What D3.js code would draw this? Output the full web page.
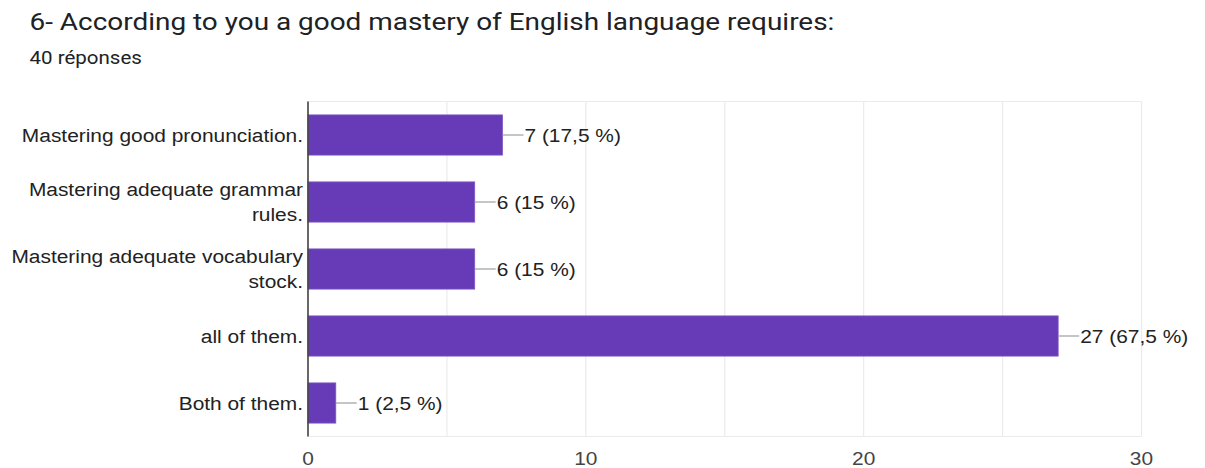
<!DOCTYPE html>
<html>
<head>
<meta charset="utf-8">
<script src="https://cdn.jsdelivr.net/npm/d3@7"></script>
<style>
  body { margin: 0; background: #fff; }
  text { font-family: "Liberation Sans", Arial, sans-serif; }
</style>
</head>
<body>
<svg id="chart" width="1205" height="468"></svg>
<script>
// Survey question and answer counts
const title = "6- According to you a good mastery of English language requires:";
const subtitle = "40 réponses";
const categories = [
  "Mastering good pronunciation.",
  "Mastering adequate grammar rules.",
  "Mastering adequate vocabulary stock.",
  "all of them.",
  "Both of them."
];
const counts = [7, 6, 6, 27, 1];
const totalResponses = 40;
const xTickValues = [0, 10, 20, 30];
const gridValues = [0, 5, 10, 15, 20, 25, 30];

const svg = d3.select("#chart");
const SX = 1.1;       // horizontal text stretch of the chart body
const SX_HEAD = 1.14; // horizontal text stretch of the heading

const plot = { left: 308, right: 1141.5, top: 101.5, bottom: 436.5 };

const x = d3.scaleLinear().domain([0, 30]).range([plot.left, plot.right]);
const y = d3.scaleBand().domain(categories).range([plot.top, plot.bottom])
  .paddingInner(0.4).paddingOuter(0.2);

const fr = d3.formatLocale({ decimal: ",", thousands: " ", grouping: [3], currency: ["", " €"] });
const pct = fr.format(".3~r");

// helper: stretched text placed at (px, py)
function stretchedText(parent, px, py, str, opts) {
  const g = parent.append("g").attr("transform", `translate(${px},${py}) scale(${opts.sx || SX},1)`);
  const t = g.append("text").text(str)
    .attr("font-size", opts.size)
    .attr("fill", opts.fill)
    .attr("text-anchor", opts.anchor || "start");
  if (opts.family) t.style("font-family", opts.family);
  return t;
}

// Title and subtitle
stretchedText(svg, 29.5, 30, title, { size: 24.5, fill: "#202124", family: "Roboto, sans-serif", sx: SX_HEAD });
stretchedText(svg, 29.5, 64, subtitle, { size: 18, fill: "#202124", family: "Roboto, sans-serif", sx: SX_HEAD });

// Grid
const grid = svg.append("g");
grid.selectAll("line.v").data(gridValues).join("line")
  .attr("x1", d => x(d)).attr("x2", d => x(d))
  .attr("y1", plot.top).attr("y2", plot.bottom)
  .attr("stroke", "#ebebeb").attr("stroke-width", 1.2);
grid.selectAll("line.h").data([plot.top, plot.bottom]).join("line")
  .attr("x1", plot.left).attr("x2", plot.right)
  .attr("y1", d => d).attr("y2", d => d)
  .attr("stroke", "#ebebeb").attr("stroke-width", 1.2);

// Bars
svg.append("g").selectAll("rect").data(categories).join("rect")
  .attr("x", x(0))
  .attr("y", d => y(d))
  .attr("width", (d, i) => x(counts[i]) - x(0))
  .attr("height", y.bandwidth())
  .attr("fill", "#673ab7")
  .attr("stroke", "#7e57c2").attr("stroke-width", 0.8);

// Value annotations with leader lines
const ann = svg.append("g");
categories.forEach((c, i) => {
  const xe = x(counts[i]);
  const yc = y(c) + y.bandwidth() / 2;
  ann.append("line")
    .attr("x1", xe).attr("x2", xe + 21)
    .attr("y1", yc).attr("y2", yc)
    .attr("stroke", "#9e9e9e").attr("stroke-width", 1.2);
  stretchedText(ann, xe + 22, yc + 6.5,
    `${counts[i]} (${pct(counts[i] / totalResponses * 100)} %)`,
    { size: 19, fill: "#222" });
});

// Vertical baseline axis
svg.append("line")
  .attr("x1", x(0)).attr("x2", x(0))
  .attr("y1", plot.top).attr("y2", plot.bottom)
  .attr("stroke", "#444").attr("stroke-width", 1.6);

// X tick labels
const xAxis = svg.append("g");
xTickValues.forEach(v => {
  stretchedText(xAxis, x(v), 465, d3.format("d")(v), { size: 19, fill: "#444", anchor: "middle" });
});

// Category labels, wrapped to the label column width
const maxLabelWidth = 296;
const lineGap = 25;
const yAxis = svg.append("g");
categories.forEach(c => {
  const words = c.split(" ");
  const lines = [];
  let cur = [];
  const probe = yAxis.append("text").attr("font-size", 19);
  words.forEach(w => {
    const trial = cur.concat([w]).join(" ");
    probe.text(trial);
    if (probe.node().getComputedTextLength() * SX > maxLabelWidth && cur.length) {
      lines.push(cur.join(" "));
      cur = [w];
    } else {
      cur.push(w);
    }
  });
  lines.push(cur.join(" "));
  probe.remove();
  const yc = y(c) + y.bandwidth() / 2;
  const y0 = yc + 6.5 - (lines.length - 1) * lineGap / 2;
  lines.forEach((ln, k) => {
    stretchedText(yAxis, 303, y0 + k * lineGap, ln, { size: 19, fill: "#222", anchor: "end" });
  });
});
</script>
</body>
</html>
